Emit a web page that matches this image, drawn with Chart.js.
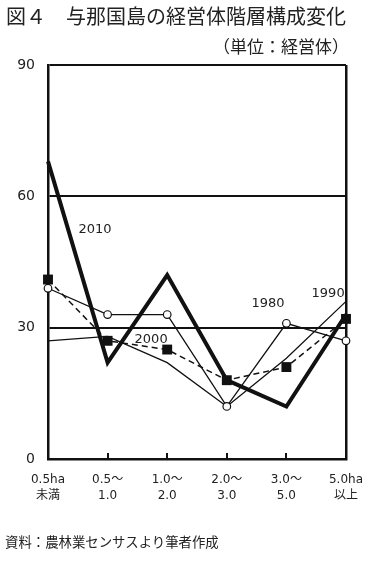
<!DOCTYPE html>
<html>
<head>
<meta charset="utf-8">
<script src="https://cdn.jsdelivr.net/npm/chart.js@4/dist/chart.umd.min.js"></script>
<style>
html,body{margin:0;padding:0;background:#fff;}
#wrap{position:relative;width:377px;height:561px;overflow:hidden;font-family:"Noto Sans CJK JP",sans-serif;color:#222;}
#c{position:absolute;left:0;top:0;}
.t{position:absolute;white-space:nowrap;line-height:1;}
</style>
</head>
<body>
<div id="wrap">
<canvas id="c" width="377" height="561"></canvas>
<div class="t" style="left:6px;top:6px;font-size:20px;">図４　与那国島の経営体階層構成変化</div>
<div class="t" style="right:28px;top:37px;font-size:17px;">（単位：経営体）</div>
<div class="t" style="left:5px;top:535px;font-size:13.4px;">資料：農林業センサスより筆者作成</div>
</div>
<script>
const categories = [["0.5ha","未満"],["0.5～","1.0"],["1.0～","2.0"],["2.0～","3.0"],["3.0～","5.0"],["5.0ha","以上"]];
const s1980 = [39, 33, 33, 12, 31, 27];
const s1990 = [27, 28, 22, 12, 23, 36];
const s2000 = [41, 27, 25, 18, 21, 32];
const s2010 = [68, 22, 42, 18, 12, 33];
const yTicks = [0, 30, 60, 90];
const seriesLabels = [
  {text:"2010", x:0.79, y:52.5},
  {text:"2000", x:1.73, y:27.2},
  {text:"1980", x:3.69, y:35.4},
  {text:"1990", x:4.70, y:37.7}
];

const INK = '#111';
const numFont = '"DejaVu Sans","Noto Sans CJK JP",sans-serif';

const extras = {
  id:'extras',
  afterDatasetsDraw(chart){
    const {ctx, scales:{x,y}, chartArea:a} = chart;
    ctx.save();
    ctx.strokeStyle = INK; ctx.lineWidth = 2;
    for(let i=1;i<categories.length-1;i++){
      const px = Math.round(x.getPixelForValue(i));
      ctx.beginPath(); ctx.moveTo(px, a.bottom); ctx.lineTo(px, a.bottom-6); ctx.stroke();
    }
    ctx.fillStyle = '#222';
    ctx.font = '13px ' + numFont;
    ctx.textAlign='center'; ctx.textBaseline='middle';
    seriesLabels.forEach(l=>{
      ctx.fillText(l.text, x.getPixelForValue(l.x), y.getPixelForValue(l.y));
    });
    ctx.restore();
  }
};

new Chart(document.getElementById('c'), {
  type:'line',
  data:{
    labels: categories,
    datasets:[
      {label:'1980', data:s1980, borderColor:INK, borderWidth:1.3, pointStyle:'circle', pointRadius:3.8, pointBackgroundColor:'#fff', pointBorderColor:INK, pointBorderWidth:1.2, tension:0},
      {label:'1990', data:s1990, borderColor:INK, borderWidth:1.3, pointRadius:0, tension:0},
      {label:'2000', data:s2000, borderColor:INK, borderWidth:1.5, borderDash:[6,4], pointStyle:'rect', pointRadius:7, pointBackgroundColor:INK, pointBorderColor:INK, pointBorderWidth:0, tension:0},
      {label:'2010', data:s2010, borderColor:INK, borderWidth:4, pointRadius:0, tension:0}
    ]
  },
  options:{
    responsive:false, animation:false, devicePixelRatio:1,
    layout:{padding:{left:0,right:31,top:65,bottom:0}},
    plugins:{legend:{display:false}, tooltip:{enabled:false}, title:{display:false}},
    scales:{
      x:{
        type:'category', offset:false,
        grid:{drawTicks:false, color:c=>c.index===categories.length-1?INK:'transparent', lineWidth:2.5},
        border:{display:true, color:INK, width:2.5},
        ticks:{padding:13, color:'#222', font:{size:12, family:numFont, lineHeight:1.35}, maxRotation:0, autoSkip:false},
        afterFit:s=>{s.height=102;}
      },
      y:{
        min:0, max:90,
        afterBuildTicks:s=>{s.ticks = yTicks.map(v=>({value:v}));},
        grid:{drawTicks:false, color:c=>c.tick.value===0?'transparent':INK, lineWidth:2},
        border:{display:true, color:INK, width:2.5},
        ticks:{padding:13, color:'#222', font:{size:14, family:numFont}},
        afterFit:s=>{s.width=48;}
      }
    }
  },
  plugins:[extras]
});
</script>
</body>
</html>
